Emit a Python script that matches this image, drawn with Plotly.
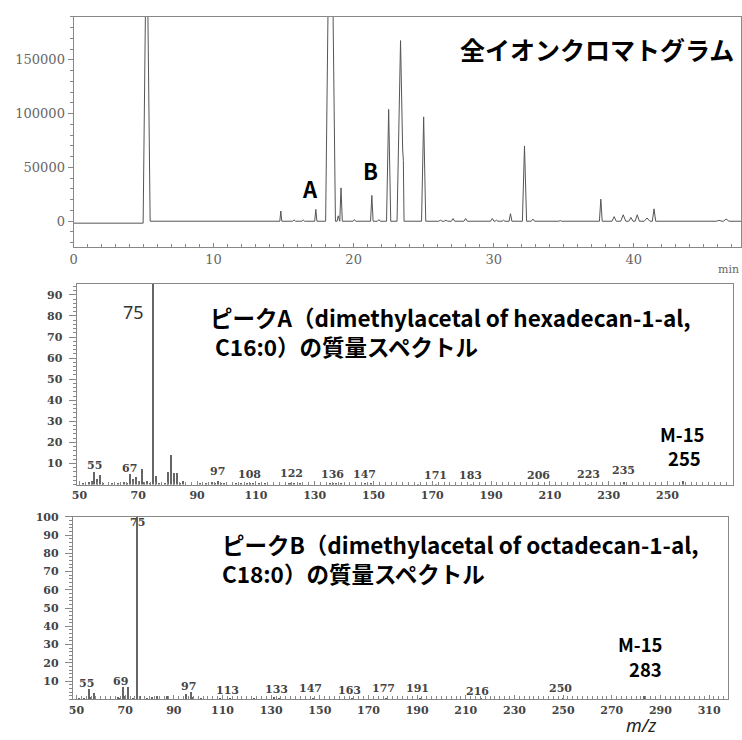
import plotly.graph_objects as go

# ---------------- Total ion chromatogram: peak table ----------------
rt_min = [5.22, 14.8, 15.75, 16.4, 17.3, 18.35, 18.9, 19.1, 20.05, 21.3, 21.8,
          22.5, 23.35, 23.55, 25.0, 26.2, 26.6, 27.1, 28.0, 29.9, 30.2, 30.7,
          31.2, 32.2, 32.8, 34.75, 35.7, 37.65, 38.6, 39.25, 39.8, 40.25, 40.95,
          41.45, 46.1, 46.6]
peak_height = [300000, 9500, 1200, 1200, 11000, 400000, 5000, 31000, 1500, 24000, 1500,
               104000, 168000, 23000, 97000, 1000, 1000, 2500, 2500, 2500, 1000, 1000,
               7000, 70000, 2000, 600, 600, 20500, 4300, 6000, 3500, 6000, 3000,
               11500, 800, 2000]
peak_halfwidth = [0.25, 0.07, 0.1, 0.1, 0.08, 0.35, 0.08, 0.09, 0.1, 0.09, 0.1,
                  0.15, 0.25, 0.05, 0.15, 0.12, 0.12, 0.12, 0.12, 0.12, 0.1, 0.1,
                  0.1, 0.15, 0.12, 0.1, 0.1, 0.1, 0.15, 0.18, 0.15, 0.15, 0.2,
                  0.12, 0.2, 0.2]
baseline_before_solvent = -1800
time_end = 47.66

# ---------------- Mass spectrum of peak A ----------------
mz_a = [51, 53, 54, 55, 56, 57, 58, 61, 63, 65, 66, 67, 68, 69, 70, 71, 72, 73, 74,
        75, 76, 77, 79, 80, 81, 82, 83, 84, 85, 91, 93, 95, 96, 97, 98, 99, 103,
        105, 107, 108, 109, 111, 113, 121, 122, 123, 125, 135, 136, 137, 139,
        147, 149, 165, 171, 183, 206, 223, 235, 255]
int_a = [1, 1.5, 2, 6, 3, 4.5, 1, 0.7, 0.7, 1.5, 1, 5, 3, 3.5, 2, 7.5, 1.5, 2, 1,
         100, 4, 1, 1, 6, 14, 5.5, 5.5, 1, 2, 0.6, 1, 1.5, 1, 2, 1, 0.5, 0.5,
         0.5, 1, 0.6, 1, 1, 0.5, 0.5, 1, 1, 0.5, 0.5, 1, 1, 0.5,
         0.6, 0.5, 0.3, 0.4, 0.4, 0.3, 0.3, 1.5, 2]
labels_a = [55, 67, 97, 108, 122, 136, 147, 171, 183, 206, 223, 235]
label_y_a = [9.0, 7.7, 6.2, 4.9, 5.2, 5.0, 4.7, 4.4, 4.4, 4.4, 4.7, 6.6]

# ---------------- Mass spectrum of peak B ----------------
mz_b = [51, 53, 55, 56, 57, 67, 68, 69, 70, 71, 73, 75, 76, 79, 81, 83, 87, 95,
        97, 98, 101, 109, 113, 123, 131, 133, 147, 163, 177, 191, 216, 250, 283]
int_b = [0.5, 1, 5.5, 1.5, 3.5, 1.5, 1, 7, 2, 7, 1, 100, 2, 1, 1.5, 2, 2, 3,
         4, 1.5, 1, 1, 1, 0.5, 1.5, 1, 0.5, 0.5, 0.5, 0.5, 0.3, 0.5, 2]
labels_b = [55, 69, 97, 113, 133, 147, 163, 177, 191, 216, 250]
label_y_b = [8.6, 9.8, 7.3, 4.9, 5.3, 6.0, 4.9, 5.8, 5.8, 4.4, 6.2]

# Build the chromatogram trace: sum of triangular peaks evaluated at every vertex
vertices = {0.0, time_end}
for t, w in zip(rt_min, peak_halfwidth):
    vertices.update([t - w, t, t + w])
times = sorted(v for v in vertices if 0 <= v <= time_end)
signal = []
for tt in times:
    s = baseline_before_solvent if tt < rt_min[0] else 0.0
    for t, h, w in zip(rt_min, peak_height, peak_halfwidth):
        d = abs(tt - t)
        if d < w:
            s += h * (1 - d / w)
    signal.append(s)

W, H = 742, 740


def px(x):
    return x / W


def py(y):
    return 1 - y / H


serif_grey = dict(family="DejaVu Serif", size=13, color="#666")
serif_bold = dict(family="DejaVu Serif", size=11, color="#444", weight="bold")
line_col = "#888"

fig = go.Figure()

fig.add_trace(go.Scatter(x=times, y=signal, mode="lines",
                         line=dict(color="#555", width=1),
                         xaxis="x", yaxis="y", showlegend=False, hoverinfo="skip"))

fig.add_trace(go.Bar(x=mz_a, y=int_a, width=0.45,
                     marker=dict(color="#666", line_width=0),
                     xaxis="x2", yaxis="y2", showlegend=False))

fig.add_trace(go.Bar(x=mz_b, y=int_b, width=0.45,
                     marker=dict(color="#666", line_width=0),
                     xaxis="x3", yaxis="y3", showlegend=False))

common_axis = dict(showline=True, linecolor=line_col, linewidth=1, mirror=True,
                   showgrid=False, zeroline=False)

fig.update_layout(
    width=W, height=H,
    margin=dict(l=0, r=0, t=0, b=0),
    paper_bgcolor="white", plot_bgcolor="white",
    bargap=0,
    # chromatogram
    xaxis=dict(domain=[px(69), px(741)], range=[0, time_end], anchor="y",
               tickvals=[0, 10, 20, 30, 40], ticks="inside", ticklen=4,
               tickcolor=line_col, tickfont=serif_grey, ticklabelstandoff=0,
               minor=dict(dtick=1, ticks="inside", ticklen=3, tickcolor=line_col),
               **common_axis),
    yaxis=dict(domain=[py(243), py(11)], range=[-24000, 190000], anchor="x",
               tickvals=[0, 50000, 100000, 150000], tickformat="d",
               ticks="outside", ticklen=5, tickcolor=line_col, tickfont=serif_grey,
               minor=dict(dtick=10000, ticks="outside", ticklen=3, tickcolor=line_col),
               **common_axis),
    # spectrum A
    xaxis2=dict(domain=[px(72), px(733)], range=[49, 272.3], anchor="y2",
                tickvals=list(range(50, 251, 20)), ticks="inside", ticklen=4,
                tickcolor=line_col, tickfont=serif_bold, ticklabelstandoff=0,
                minor=dict(dtick=2, ticks="inside", ticklen=3, tickcolor=line_col),
                **common_axis),
    yaxis2=dict(domain=[py(482.5), py(280)], range=[0, 95.3], anchor="x2",
                tickvals=list(range(10, 91, 10)), ticks="outside", ticklen=7,
                tickcolor=line_col, tickfont=serif_bold, ticklabelstandoff=4,
                minor=dict(dtick=2, ticks="outside", ticklen=3, tickcolor=line_col),
                **common_axis),
    # spectrum B
    xaxis3=dict(domain=[px(68.3), px(728)], range=[48.5, 317.8], anchor="y3",
                tickvals=list(range(50, 311, 20)), ticks="inside", ticklen=4,
                tickcolor=line_col, tickfont=serif_bold, ticklabelstandoff=0,
                minor=dict(dtick=2, ticks="inside", ticklen=3, tickcolor=line_col),
                **common_axis),
    yaxis3=dict(domain=[py(699), py(515)], range=[0, 100], anchor="x3",
                tickvals=list(range(10, 101, 10)), ticks="outside", ticklen=7,
                tickcolor=line_col, tickfont=serif_bold, ticklabelstandoff=4,
                minor=dict(dtick=2, ticks="outside", ticklen=3, tickcolor=line_col),
                **common_axis),
)

jp_bold = dict(family="Noto Sans CJK JP", color="black", weight="bold")
ann = []


def paper_text(text, x, y, font, xanchor="center", align="center"):
    return dict(text=text, x=px(x), y=py(y), xref="paper", yref="paper",
                xanchor=xanchor, yanchor="middle", align=align,
                showarrow=False, font=font)


def data_text(text, x, y, axis, font):
    return dict(text=text, x=x, y=y, xref="x" + axis, yref="y" + axis,
                xanchor="center", yanchor="middle", showarrow=False, font=font)


# chromatogram texts
ann.append(paper_text("全イオンクロマトグラム", 596, 43, dict(size=25, **jp_bold)))
ann.append(data_text("A", 16.9, 31000, "", dict(size=22, **jp_bold)))
ann.append(data_text("B", 21.2, 48000, "", dict(size=22, **jp_bold)))
ann.append(paper_text("min", 728, 266, dict(family="DejaVu Serif", size=11, color="#666")))

# spectrum A texts
ann.append(paper_text("ピークA（dimethylacetal of hexadecan-1-al,<br>&nbsp;C16:0）の質量スペクトル",
                      204, 328, dict(size=22.5, **jp_bold), xanchor="left", align="left"))
ann.append(data_text("75", 68.5, 82, "2", dict(family="Noto Sans", size=18, color="#333")))
ann.append(data_text("M-15", 255, 24, "2", dict(size=18.5, **jp_bold)))
ann.append(data_text("255", 255.7, 12.8, "2", dict(size=18.5, **jp_bold)))
for m, yy in zip(labels_a, label_y_a):
    ann.append(data_text(str(m), m, yy, "2", serif_bold))

# spectrum B texts
ann.append(paper_text("ピークB（dimethylacetal of octadecan-1-al,<br>C18:0）の質量スペクトル",
                      216, 557, dict(size=22.5, **jp_bold), xanchor="left", align="left"))
ann.append(data_text("75", 75, 96.7, "3", serif_bold))
ann.append(data_text("M-15", 281.8, 30.5, "3", dict(size=18.5, **jp_bold)))
ann.append(data_text("283", 283.9, 16.8, "3", dict(size=18.5, **jp_bold)))
for m, yy in zip(labels_b, label_y_b):
    ann.append(data_text(str(m), m - 1, yy, "3", serif_bold))
ann.append(paper_text("<i>m/z</i>", 640, 725, dict(family="Noto Sans", size=18, color="#222")))

fig.update_layout(annotations=ann)

fig.write_html("out.html")
